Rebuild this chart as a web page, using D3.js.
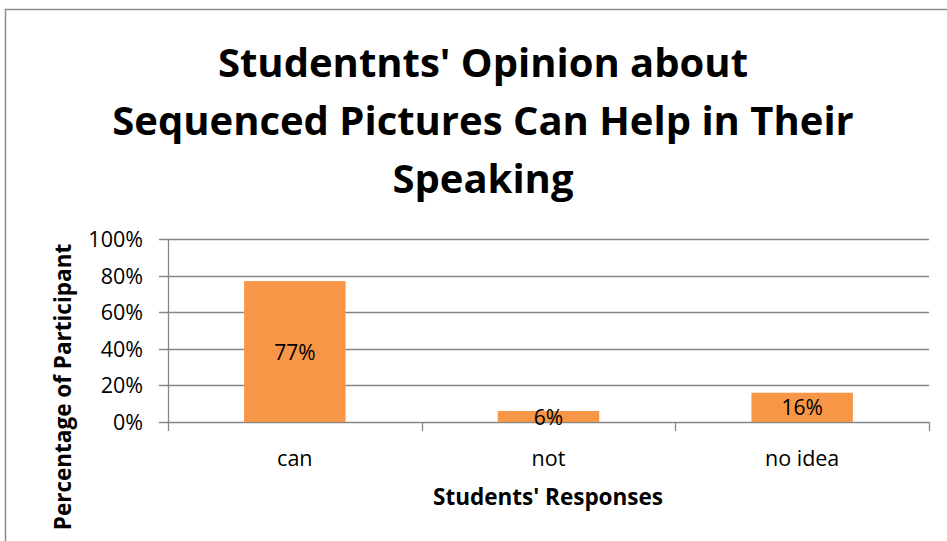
<!DOCTYPE html>
<html><head><meta charset="utf-8">
<script src="https://cdn.jsdelivr.net/npm/d3@7"></script>
<style>body{margin:0;background:#fff;} text{font-family:"Open Sans",sans-serif;}</style>
</head><body>
<svg id="c" width="947" height="541"></svg>
<script>
const categories = ["can", "not", "no idea"];
const values = [0.77, 0.06, 0.16];
const dataLabels = ["77%", "6%", "16%"];
const yTicks = [0, 0.2, 0.4, 0.6, 0.8, 1.0];
const titleLines = ["Studentnts' Opinion about", "Sequenced Pictures Can Help in Their", "Speaking"];
const xTitle = "Students' Responses";
const yTitle = "Percentage of Participant";

const svg = d3.select("#c");
const grid = "#868686";
// outer frame
svg.append("rect").attr("x",5.5).attr("y",9.5).attr("width",1000).attr("height",600)
  .attr("fill","#fff").attr("stroke","#8c8c8c").attr("stroke-width",1.5);

const L=168, R=929, T=239, B=422;
const x = d3.scaleBand().domain(categories).range([L,R]).paddingInner(0.6).paddingOuter(0.3);
const xc = d3.scaleBand().domain(categories).range([L,R]);
const y = d3.scaleLinear().domain([0,1]).range([B,T]);

// gridlines
svg.append("g").selectAll("line").data(yTicks).join("line")
  .attr("x1",L-9).attr("x2",R).attr("y1",d=>Math.round(y(d))+0.5).attr("y2",d=>Math.round(y(d))+0.5)
  .attr("stroke",grid).attr("stroke-width",1.3);
// y axis line
svg.append("line").attr("x1",L+0.5).attr("x2",L+0.5).attr("y1",T).attr("y2",B+0.5).attr("stroke",grid).attr("stroke-width",1.3);
// x ticks
const xt = categories.map(c=>xc(c)).concat([R]);
svg.append("g").selectAll("line").data(xt).join("line")
  .attr("x1",d=>Math.round(d)+0.5).attr("x2",d=>Math.round(d)+0.5).attr("y1",B).attr("y2",B+9)
  .attr("stroke",grid).attr("stroke-width",1.3);

// y tick labels
svg.append("g").selectAll("text").data(yTicks).join("text")
  .attr("x",143).attr("y",d=>y(d)+8).attr("text-anchor","end")
  .attr("font-size",21.5).attr("fill","#000").text(d=>d3.format(".0%")(d));

// bars
svg.append("g").selectAll("rect").data(values).join("rect")
  .attr("x",(d,i)=>x(categories[i])).attr("width",x.bandwidth())
  .attr("y",d=>y(d)).attr("height",d=>B-y(d)).attr("fill","#F79646");

// data labels
svg.append("g").selectAll("text").data(values).join("text")
  .attr("x",(d,i)=>x(categories[i])+x.bandwidth()/2).attr("y",d=>(y(d)+B)/2+8)
  .attr("text-anchor","middle").attr("font-size",21).attr("fill","#000").text((d,i)=>dataLabels[i]);

// category labels
svg.append("g").selectAll("text").data(categories).join("text")
  .attr("x",d=>xc(d)+xc.bandwidth()/2).attr("y",466).attr("text-anchor","middle")
  .attr("font-size",21.5).attr("fill","#000").text(d=>d);

// axis titles
svg.append("text").attr("x",548).attr("y",505).attr("text-anchor","middle")
  .attr("font-size",22.5).attr("font-weight","bold").text(xTitle);
svg.append("text").attr("transform","translate(71,387) rotate(-90)").attr("text-anchor","middle")
  .attr("font-size",22.5).attr("font-weight","bold").text(yTitle);

// title
svg.append("g").selectAll("text").data(titleLines).join("text")
  .attr("x",483).attr("y",(d,i)=>77+i*58).attr("text-anchor","middle")
  .attr("font-size",40).attr("font-weight","bold").attr("fill","#000").text(d=>d);
</script>
</body></html>
